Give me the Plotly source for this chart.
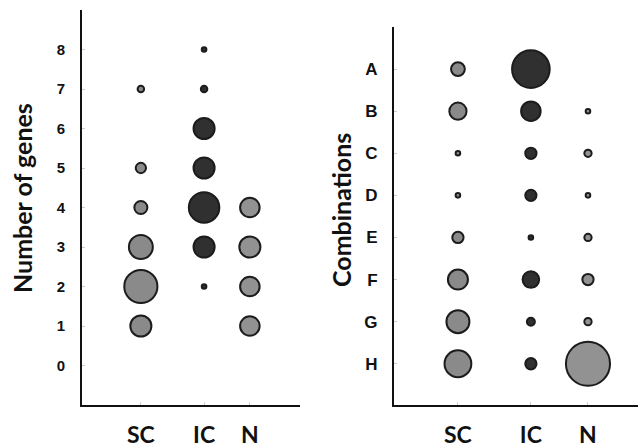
import plotly.graph_objects as go

# ---- data ----
groups = ["SC", "IC", "N"]

genes = [0, 1, 2, 3, 4, 5, 6, 7, 8]
genes_sc = [0, 21, 52, 27, 8, 5, 0, 2, 0]
genes_ic = [0, 0, 1, 21, 44, 21, 21, 2, 1]
genes_n = [0, 18, 18, 21, 18, 0, 0, 0, 0]

combos = ["A", "B", "C", "D", "E", "F", "G", "H"]
combo_sc = [9, 14, 1, 1, 6, 19, 25, 34]
combo_ic = [67, 18, 6, 6, 1, 13, 3, 6]
combo_n = [0, 1, 2.5, 1, 2.5, 6, 2.5, 92]

# ---- layout constants ----
W, H = 638, 448
left_pos = [0.27, 0.56, 0.77]
right_pos = [0.262, 0.561, 0.795]
fills = {"SC": "#8a8a8a", "IC": "#303030", "N": "#929292"}
edge = "#1c1c1c"
SIZEREF = 2 / 4.6 ** 2

fig = go.Figure()


def add_group(xpos, ys, vals, name, xa, ya):
    px = [xpos for v in vals if v > 0]
    py = [y for y, v in zip(ys, vals) if v > 0]
    pv = [v for v in vals if v > 0]
    fig.add_trace(go.Scatter(
        x=px, y=py, mode="markers", xaxis=xa, yaxis=ya, showlegend=False,
        marker=dict(size=pv, sizemode="area", sizeref=SIZEREF, opacity=1,
                    color=fills[name], line=dict(color=edge, width=2)),
        hoverinfo="skip"))


for g, xp, vals in zip(groups, left_pos, [genes_sc, genes_ic, genes_n]):
    add_group(xp, genes, vals, g, "x", "y")
for g, xp, vals in zip(groups, right_pos, [combo_sc, combo_ic, combo_n]):
    add_group(xp, combos, vals, g, "x2", "y2")

title_font = dict(family="Lato", size=25, color="#111111", weight="bold")
xtick_font = dict(family="Lato", size=23, color="#111111", weight="bold")
ytick_font = dict(family="Liberation Sans", size=15, color="#111111", weight="bold")

axis_common = dict(showgrid=False, zeroline=False, showline=True, linecolor="#111111",
                   linewidth=2, ticks="inside", ticklen=3, tickcolor="#cccccc",
                   mirror=False, fixedrange=True, automargin=False)

fig.update_layout(
    width=W, height=H, margin=dict(l=0, r=0, t=0, b=0),
    paper_bgcolor="white", plot_bgcolor="white",
    xaxis=dict(domain=[82 / W, 300 / W], range=[0, 1], tickvals=left_pos, ticktext=groups,
               tickfont=xtick_font, ticklabelstandoff=8, anchor="y", **axis_common),
    yaxis=dict(domain=[1 - 405 / H, 1 - 10 / H], range=[-1, 9], tickvals=genes,
               tickfont=ytick_font, ticklabelstandoff=12, anchor="x", **axis_common),
    xaxis2=dict(domain=[394 / W, 1.0], range=[0, 1], tickvals=right_pos, ticktext=groups,
                tickfont=xtick_font, ticklabelstandoff=8, anchor="y2", **axis_common),
    yaxis2=dict(domain=[1 - 405 / H, 1 - 27 / H], type="category", categoryarray=combos,
                categoryorder="array", range=[7.98, -1], tickfont=dict(ytick_font, size=17),
                ticklabelstandoff=11, anchor="x2", **axis_common),
    annotations=[
        dict(text="Number of genes", x=22 / W, y=1 - 198 / H, xref="paper", yref="paper",
             textangle=-90, showarrow=False, font=title_font, xanchor="center", yanchor="middle"),
        dict(text="Combinations", x=341 / W, y=1 - 210 / H, xref="paper", yref="paper",
             textangle=-90, showarrow=False, font=title_font, xanchor="center", yanchor="middle"),
    ],
)

fig.write_html("out.html", config={"displayModeBar": False},
               post_script="document.body.style.margin='0';")
